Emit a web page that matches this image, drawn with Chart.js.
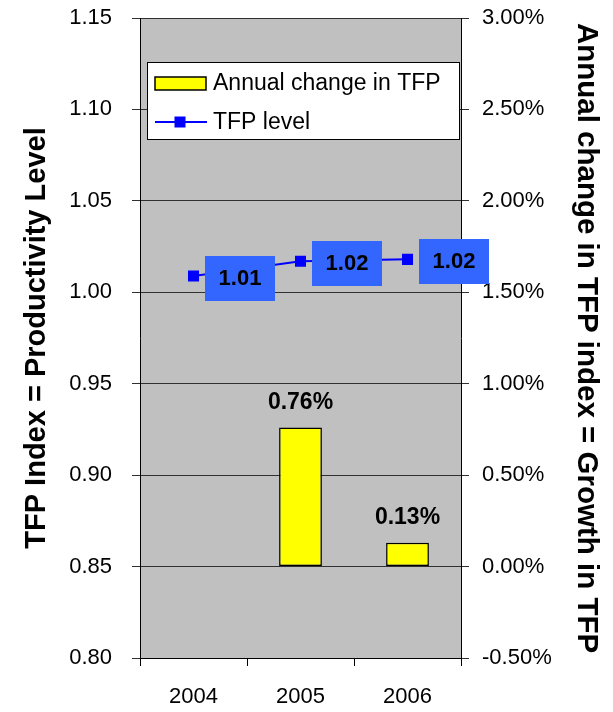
<!DOCTYPE html>
<html>
<head>
<meta charset="utf-8">
<script src="https://cdn.jsdelivr.net/npm/chart.js@4/dist/chart.umd.min.js"></script>
<style>
  html, body { margin: 0; padding: 0; background: #ffffff; }
  #wrap { width: 613px; height: 712px; }
</style>
</head>
<body>
<div id="wrap"><canvas id="c" width="613" height="712"></canvas></div>
<script>
// Years on the category axis
const years = ['2004', '2005', '2006'];
// Annual change in TFP, in percent (no change shown for the first year)
const annualChangePct = [null, 0.76, 0.13];
// TFP index level
const tfpLevel = [1.0089, 1.017, 1.018];
// Tick values for the two value axes
const levelTicks = [0.80, 0.85, 0.90, 0.95, 1.00, 1.05, 1.10, 1.15];
const growthTicks = [-0.5, 0.0, 0.5, 1.0, 1.5, 2.0, 2.5, 3.0];

const FONT = '"Liberation Sans", Arial, Helvetica, sans-serif';
const PLOT_BG = '#C0C0C0';
const BAR_FILL = '#FFFF00';
const LINE_BLUE = '#0000FF';
const LABEL_BOX = '#3366FF';

// Grey plot background behind the grid
const plotBackground = {
  id: 'plotBackground',
  beforeDraw(chart) {
    const { ctx, chartArea: a } = chart;
    ctx.save();
    ctx.fillStyle = PLOT_BG;
    ctx.fillRect(a.left, a.top, a.right - a.left, a.bottom - a.top);
    ctx.restore();
  }
};

// Value labels: percent above the bars, boxed index values beside the points
const valueLabels = {
  id: 'valueLabels',
  afterDraw(chart) {
    const ctx = chart.ctx;
    ctx.save();
    chart.data.datasets.forEach((ds, i) => {
      const meta = chart.getDatasetMeta(i);
      meta.data.forEach((el, j) => {
        const v = ds.data[j];
        if (v === null || v === undefined) return;
        if (ds.type === 'bar') {
          ctx.font = 'bold 23px ' + FONT;
          ctx.fillStyle = '#000';
          ctx.textAlign = 'center';
          ctx.textBaseline = 'middle';
          ctx.fillText(v.toFixed(2) + '%', el.x, el.y - 25);
        } else {
          const cx = el.x + 46.5, cy = el.y + 2;
          const w = 70, h = 45;
          ctx.fillStyle = LABEL_BOX;
          ctx.fillRect(Math.round(cx - w / 2), Math.round(cy - h / 2), w, h);
          ctx.font = 'bold 22px ' + FONT;
          ctx.fillStyle = '#000';
          ctx.textAlign = 'center';
          ctx.textBaseline = 'middle';
          ctx.fillText(v.toFixed(2), cx, cy + 1);
        }
      });
    });
    ctx.restore();
  }
};

// Boxed legend inside the top of the plot area
const boxedLegend = {
  id: 'boxedLegend',
  afterDraw(chart) {
    const { ctx, chartArea: a } = chart;
    const left = a.left + 7, top = a.top + 44, right = a.right - 1, bottom = top + 78;
    ctx.save();
    ctx.fillStyle = '#FFFFFF';
    ctx.fillRect(left, top, right - left, bottom - top);
    ctx.strokeStyle = '#000';
    ctx.lineWidth = 1;
    ctx.strokeRect(left + 0.5, top + 0.5, right - left - 1, bottom - top - 1);

    const barDs = chart.data.datasets[1];
    const lineDs = chart.data.datasets[0];
    const row1 = top + 21, row2 = top + 60;
    // bar swatch
    ctx.fillStyle = barDs.backgroundColor;
    ctx.fillRect(left + 8, row1 - 6, 51, 13);
    ctx.lineWidth = 1.5;
    ctx.strokeStyle = '#000';
    ctx.strokeRect(left + 8, row1 - 6, 51, 13);
    // line swatch
    ctx.strokeStyle = lineDs.borderColor;
    ctx.lineWidth = 2;
    ctx.beginPath();
    ctx.moveTo(left + 8, row2);
    ctx.lineTo(left + 60, row2);
    ctx.stroke();
    ctx.fillStyle = lineDs.pointBackgroundColor;
    ctx.fillRect(left + 33 - 5.5, row2 - 5.5, 11, 11);

    ctx.fillStyle = '#000';
    ctx.font = '23px ' + FONT;
    ctx.textAlign = 'left';
    ctx.textBaseline = 'middle';
    ctx.fillText(barDs.label, left + 66, row1 + 1);
    ctx.fillText(lineDs.label, left + 66, row2 + 1);
    ctx.restore();
  }
};

// Fixed axis box sizes so the plot area sits where the layout wants it
function fixVertical(width) {
  return s => { s.width = width; s.paddingTop = 0; s.paddingBottom = 0; };
}

new Chart(document.getElementById('c'), {
  data: {
    labels: years,
    datasets: [
      {
        type: 'line',
        label: 'TFP level',
        data: tfpLevel,
        yAxisID: 'y',
        borderColor: LINE_BLUE,
        borderWidth: 2,
        pointStyle: 'rect',
        pointRadius: 7.8,
        pointBackgroundColor: LINE_BLUE,
        pointBorderColor: LINE_BLUE,
        pointBorderWidth: 0,
        tension: 0,
        order: 0
      },
      {
        type: 'bar',
        label: 'Annual change in TFP',
        data: annualChangePct,
        yAxisID: 'y1',
        backgroundColor: BAR_FILL,
        borderColor: '#000000',
        borderWidth: 1.5,
        borderSkipped: false,
        categoryPercentage: 1.0,
        barPercentage: 0.4,
        order: 1
      }
    ]
  },
  options: {
    responsive: false,
    devicePixelRatio: 1,
    animation: false,
    events: [],
    layout: { padding: { top: 18, left: 0, right: 0, bottom: 0 } },
    plugins: {
      legend: { display: false },
      tooltip: { enabled: false }
    },
    scales: {
      x: {
        type: 'category',
        offset: true,
        grid: { offset: true, drawOnChartArea: false, tickLength: 8, color: '#000', tickColor: '#000' },
        border: { display: true, color: '#000', width: 1 },
        ticks: { font: { family: FONT, size: 22 }, color: '#000', padding: 18, maxRotation: 0 },
        afterFit(s) { s.height = 54; s.paddingLeft = 0; s.paddingRight = 0; }
      },
      y: {
        position: 'left',
        min: 0.80,
        max: 1.15,
        afterBuildTicks(s) { s.ticks = levelTicks.map(v => ({ value: v })); },
        ticks: {
          font: { family: FONT, size: 22 },
          color: '#000',
          padding: 20,
          callback: v => Number(v).toFixed(2)
        },
        grid: { color: '#303030', tickColor: '#303030', lineWidth: 1, tickLength: 8 },
        border: { display: true, color: '#000', width: 1 },
        title: {
          display: true,
          text: 'TFP Index = Productivity Level',
          font: { family: FONT, size: 29, weight: 'bold' },
          color: '#000',
          padding: { top: 20, bottom: 0 }
        },
        afterFit: fixVertical(140)
      },
      y1: {
        position: 'right',
        min: -0.5,
        max: 3.0,
        afterBuildTicks(s) { s.ticks = growthTicks.map(v => ({ value: v })); },
        ticks: {
          font: { family: FONT, size: 22 },
          color: '#000',
          padding: 13,
          callback: v => Number(v).toFixed(2) + '%'
        },
        grid: { drawOnChartArea: false, tickColor: '#303030', tickLength: 8 },
        border: { display: true, color: '#000', width: 1 },
        title: {
          display: true,
          text: 'Annual change in TFP index = Growth in TFP',
          font: { family: FONT, size: 29.5, weight: 'bold' },
          color: '#000',
          padding: { top: 9, bottom: 0 }
        },
        afterFit: fixVertical(152)
      }
    }
  },
  plugins: [plotBackground, valueLabels, boxedLegend]
});
</script>
</body>
</html>
